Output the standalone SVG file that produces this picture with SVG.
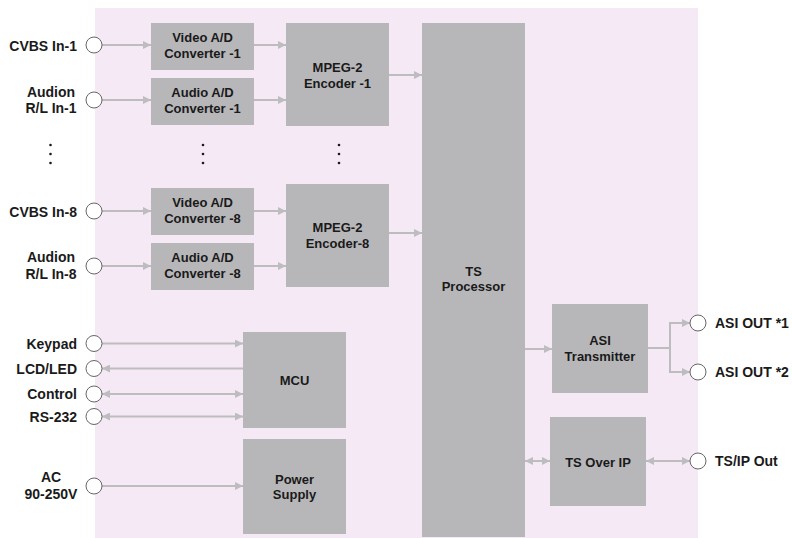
<svg xmlns="http://www.w3.org/2000/svg" width="792" height="538" viewBox="0 0 792 538">
<style>
.box{fill:#b7b7b9}
.t{font-family:"Liberation Sans",Arial,sans-serif;font-weight:bold;font-size:13px;fill:#1a1a1a}
.o{font-size:14px}
.m{text-anchor:middle}
.e{text-anchor:end}
.ln{stroke:#bdbdbf;stroke-width:2;fill:none}
.port{fill:#fff;stroke:#666;stroke-width:1}
.dot{fill:#1a1a1a}
</style>
<defs>
<marker id="ah" markerUnits="userSpaceOnUse" markerWidth="8" markerHeight="8" refX="8" refY="4" orient="auto-start-reverse" viewBox="0 0 8 8">
<path d="M0,0 L8,4 L0,8 z" fill="#bdbdbf"/>
</marker>
</defs>
<rect x="0" y="0" width="792" height="538" fill="#fff"/>
<rect x="95" y="8" width="603" height="530" fill="#f4e9f4"/>

<g id="connectors">
<line class="ln" x1="102" y1="45" x2="151" y2="45" marker-end="url(#ah)"/>
<line class="ln" x1="102" y1="100" x2="151" y2="100" marker-end="url(#ah)"/>
<line class="ln" x1="254" y1="45" x2="286" y2="45" marker-end="url(#ah)"/>
<line class="ln" x1="254" y1="100" x2="286" y2="100" marker-end="url(#ah)"/>
<line class="ln" x1="389" y1="75" x2="422" y2="75" marker-end="url(#ah)"/>
<line class="ln" x1="102" y1="211" x2="151" y2="211" marker-end="url(#ah)"/>
<line class="ln" x1="102" y1="266" x2="151" y2="266" marker-end="url(#ah)"/>
<line class="ln" x1="254" y1="211" x2="286" y2="211" marker-end="url(#ah)"/>
<line class="ln" x1="254" y1="266" x2="286" y2="266" marker-end="url(#ah)"/>
<line class="ln" x1="389" y1="233" x2="422" y2="233" marker-end="url(#ah)"/>
<line class="ln" x1="102" y1="343.5" x2="243" y2="343.5" marker-end="url(#ah)"/>
<line class="ln" x1="102" y1="368.5" x2="243" y2="368.5" marker-start="url(#ah)"/>
<line class="ln" x1="102" y1="394" x2="243" y2="394" marker-start="url(#ah)" marker-end="url(#ah)"/>
<line class="ln" x1="102" y1="416.5" x2="243" y2="416.5" marker-start="url(#ah)" marker-end="url(#ah)"/>
<line class="ln" x1="102" y1="486" x2="243" y2="486" marker-end="url(#ah)"/>
<line class="ln" x1="525" y1="349" x2="552" y2="349" marker-end="url(#ah)"/>
<path class="ln" d="M648,348 H670 M670,323 V372"/>
<line class="ln" x1="669" y1="323" x2="690" y2="323" marker-end="url(#ah)"/>
<line class="ln" x1="669" y1="372" x2="690" y2="372" marker-end="url(#ah)"/>
<line class="ln" x1="525" y1="461" x2="550" y2="461" marker-start="url(#ah)" marker-end="url(#ah)"/>
<line class="ln" x1="646" y1="461" x2="690" y2="461" marker-start="url(#ah)" marker-end="url(#ah)"/>
</g>

<g id="in-cvbs1"><circle class="port" cx="94" cy="45" r="8"/><text class="t o e" x="77" y="50.5">CVBS In-1</text></g>
<g id="in-audio1"><circle class="port" cx="94" cy="100" r="8"/><text class="t o m" x="51" y="96.5">Audion</text><text class="t o m" x="51" y="113">R/L In-1</text></g>
<g id="in-cvbs8"><circle class="port" cx="94" cy="211" r="8"/><text class="t o e" x="77" y="216.5">CVBS In-8</text></g>
<g id="in-audio8"><circle class="port" cx="94" cy="266" r="8"/><text class="t o m" x="51" y="262">Audion</text><text class="t o m" x="51" y="278.5">R/L In-8</text></g>
<g id="in-keypad"><circle class="port" cx="94" cy="343.5" r="8"/><text class="t o e" x="77" y="348.5">Keypad</text></g>
<g id="out-lcd"><circle class="port" cx="94" cy="368.5" r="8"/><text class="t o e" x="77" y="373.5">LCD/LED</text></g>
<g id="io-control"><circle class="port" cx="94" cy="394" r="8"/><text class="t o e" x="77" y="399">Control</text></g>
<g id="io-rs232"><circle class="port" cx="94" cy="416.5" r="8"/><text class="t o e" x="77" y="421.5">RS-232</text></g>
<g id="in-ac"><circle class="port" cx="94" cy="486" r="8"/><text class="t o m" x="51" y="482">AC</text><text class="t o m" x="51" y="498.5">90-250V</text></g>

<g id="dots">
<circle class="dot" cx="50.5" cy="145" r="1.3"/><circle class="dot" cx="50.5" cy="154" r="1.3"/><circle class="dot" cx="50.5" cy="163" r="1.3"/>
<circle class="dot" cx="203" cy="145" r="1.3"/><circle class="dot" cx="203" cy="154" r="1.3"/><circle class="dot" cx="203" cy="163" r="1.3"/>
<circle class="dot" cx="339" cy="145" r="1.3"/><circle class="dot" cx="339" cy="154" r="1.3"/><circle class="dot" cx="339" cy="163" r="1.3"/>
</g>

<g id="video-ad1"><rect class="box" x="151" y="23" width="103" height="47"/><text class="t m" x="202.5" y="41.5">Video A/D</text><text class="t m" x="202.5" y="58">Converter -1</text></g>
<g id="audio-ad1"><rect class="box" x="151" y="78" width="103" height="47"/><text class="t m" x="202.5" y="96.5">Audio A/D</text><text class="t m" x="202.5" y="113">Converter -1</text></g>
<g id="mpeg1"><rect class="box" x="286" y="23" width="103" height="103"/><text class="t m" x="337.5" y="71.5">MPEG-2</text><text class="t m" x="337.5" y="87.5">Encoder -1</text></g>
<g id="video-ad8"><rect class="box" x="151" y="188" width="103" height="47"/><text class="t m" x="202.5" y="206.5">Video A/D</text><text class="t m" x="202.5" y="223">Converter -8</text></g>
<g id="audio-ad8"><rect class="box" x="151" y="243" width="103" height="47"/><text class="t m" x="202.5" y="261.5">Audio A/D</text><text class="t m" x="202.5" y="278">Converter -8</text></g>
<g id="mpeg8"><rect class="box" x="286" y="184" width="103" height="103"/><text class="t m" x="337.5" y="231.5">MPEG-2</text><text class="t m" x="337.5" y="247.5">Encoder-8</text></g>
<g id="ts-processor"><rect class="box" x="422" y="23" width="103" height="514"/><text class="t m" x="473.5" y="276">TS</text><text class="t m" x="473.5" y="291">Processor</text></g>
<g id="mcu"><rect class="box" x="243" y="332" width="103" height="96"/><text class="t m" x="294.5" y="384.5">MCU</text></g>
<g id="power"><rect class="box" x="243" y="439" width="103" height="95"/><text class="t m" x="294.5" y="483.5">Power</text><text class="t m" x="294.5" y="499">Supply</text></g>
<g id="asi-tx"><rect class="box" x="552" y="304" width="96" height="89"/><text class="t m" x="600" y="344.5">ASI</text><text class="t m" x="600" y="361">Transmitter</text></g>
<g id="ts-over-ip"><rect class="box" x="550" y="417" width="96" height="89"/><text class="t m" x="598" y="466.5">TS Over IP</text></g>

<g id="out-asi1"><circle class="port" cx="698" cy="323" r="8"/><text class="t o" x="715" y="328">ASI OUT *1</text></g>
<g id="out-asi2"><circle class="port" cx="698" cy="372" r="8"/><text class="t o" x="715" y="377">ASI OUT *2</text></g>
<g id="out-tsip"><circle class="port" cx="698" cy="461" r="8"/><text class="t o" x="715" y="466">TS/IP Out</text></g>
</svg>
